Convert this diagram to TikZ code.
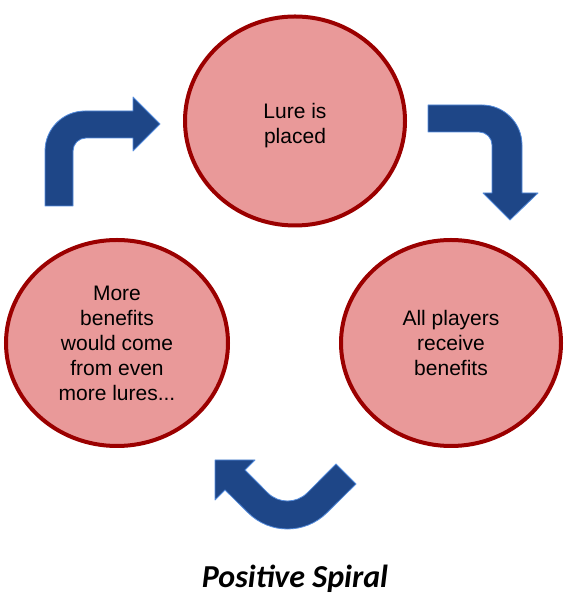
\documentclass[tikz,border=0pt]{standalone}
\usepackage{fontspec}
\setmainfont{Liberation Sans}
\newfontfamily\titlefont{Carlito}
\usepackage{tikz}
\usetikzlibrary{shapes.geometric}

\definecolor{bubblefill}{RGB}{233,153,153}
\definecolor{bubbleline}{RGB}{155,0,0}
\definecolor{arrowfill}{RGB}{30,70,135}
\definecolor{arrowline}{RGB}{85,140,220}

\tikzset{
  bubble/.style={ellipse, draw=bubbleline, fill=bubblefill, line width=4pt, align=center,
    inner sep=0pt, font=\fontsize{21}{25}\selectfont},
  blockarrow/.style={fill=arrowfill, draw=arrowline, line width=0.8pt, line join=round}
}

\begin{document}
\begin{tikzpicture}[x=1pt, y=1pt]
    \useasboundingbox (0,0) rectangle (574,609);

    % Circles
    \node[bubble, minimum width=220pt, minimum height=209pt, text height=50pt] (lure) at (295,488) {Lure is\\placed};
    \node[bubble, minimum width=220pt, minimum height=206pt] (receive) at (451,266) {All players\\receive\\benefits};
    \node[bubble, minimum width=222pt, minimum height=206pt] (more) at (117,266) {More\\benefits\\would come\\from even\\more lures...};

    % Arrow up and right (left circle to top circle)
    \draw[blockarrow] (45,403) -- (45,458) arc[start angle=180, end angle=90, radius=40pt]
        -- (133,498) -- (133,512) -- (160,485) -- (133,458) -- (133,471)
        -- (86,471) arc[start angle=90, end angle=180, radius=13pt] -- (73,403) -- cycle;

    % Arrow right and down (top circle to right circle)
    \draw[blockarrow] (428,504) -- (482,504) arc[start angle=90, end angle=0, radius=40pt]
        -- (522,416) -- (538,416) -- (510,389) -- (483,416) -- (492,416)
        -- (492,464) arc[start angle=0, end angle=90, radius=13pt] -- (428,477) -- cycle;

    % Arrow bent under (right circle to left circle)
    \draw[blockarrow] (336,145) -- (307.3,116.2) arc[start angle=315, end angle=225, radius=28pt]
        -- (245,139) -- (255,149) -- (215,149) -- (215,109) -- (225,119)
        -- (247.9,96.4) arc[start angle=225, end angle=315, radius=56pt] -- (356,125) -- cycle;

    % Title
    \node[anchor=base, font=\titlefont\bfseries\itshape\fontsize{32}{38}\selectfont] (title) at (295,21) {Positive Spiral};
\end{tikzpicture}
\end{document}
